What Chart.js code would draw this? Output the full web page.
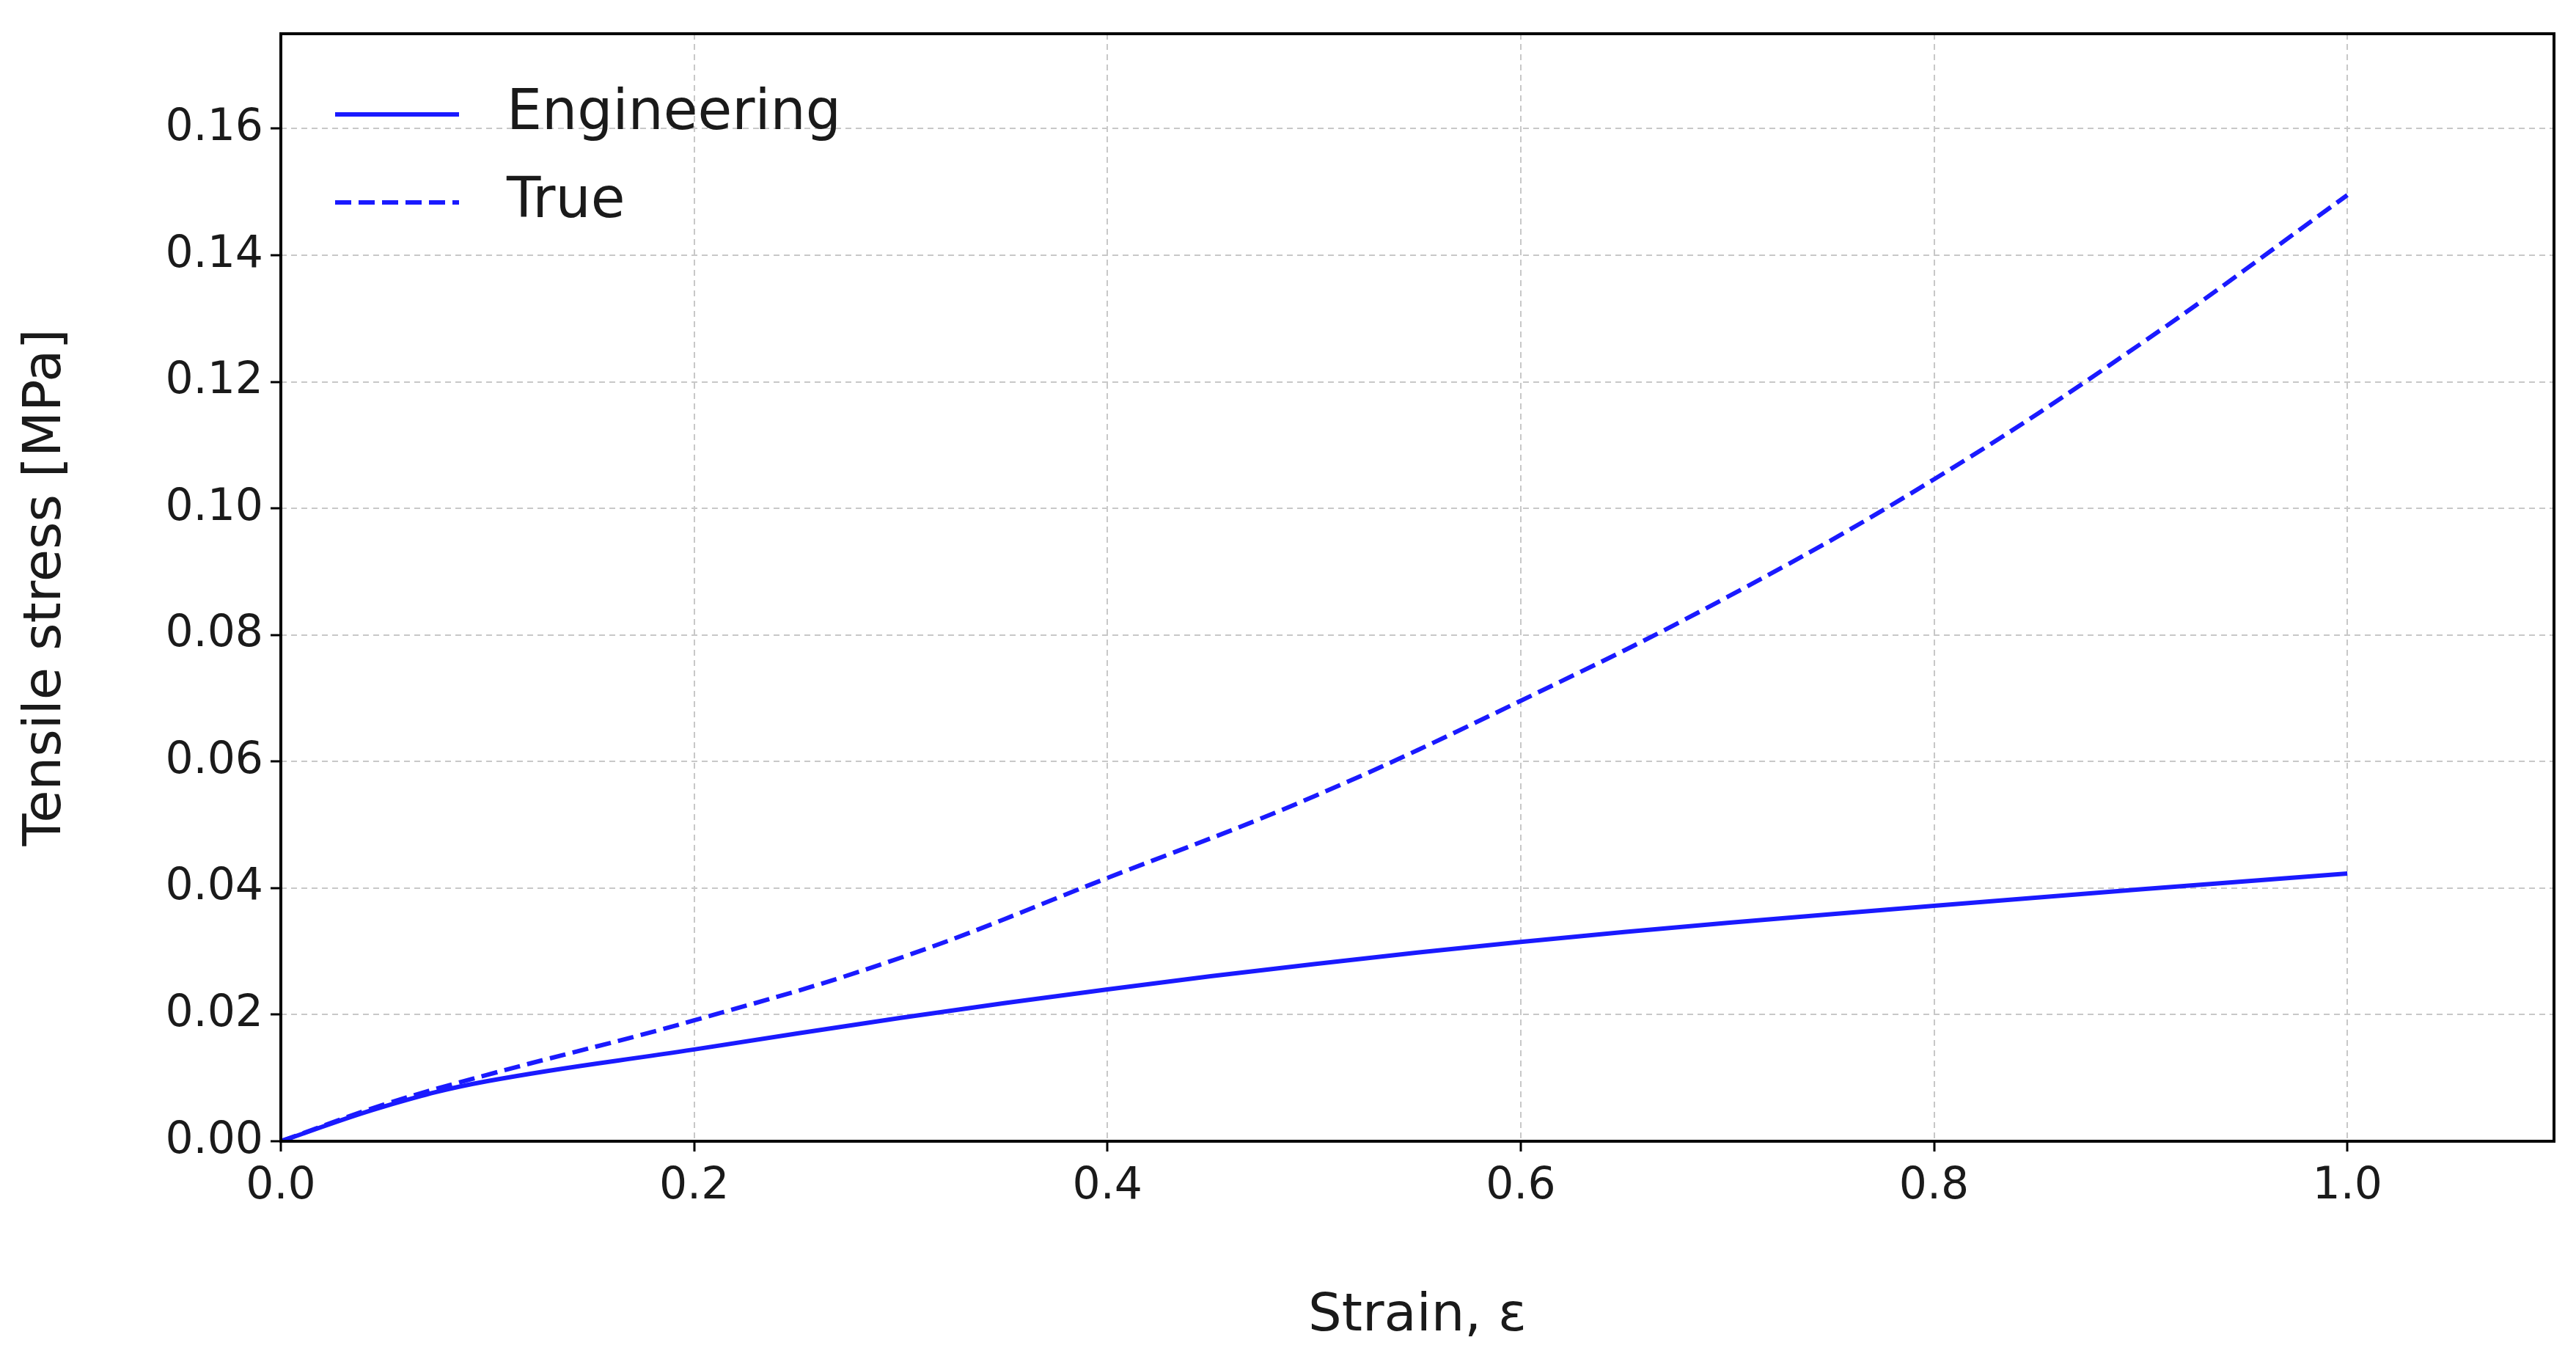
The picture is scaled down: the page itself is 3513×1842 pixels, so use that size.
<!DOCTYPE html>
<html><head><meta charset="utf-8">
<script src="https://cdn.jsdelivr.net/npm/chart.js@4"></script>
<style>html,body{margin:0;padding:0;background:#fff}#w{width:3513px;height:1842px}</style>
</head><body><div id="w"><canvas id="c"></canvas></div>
<script>
const strain = [0,0.05,0.1,0.2,0.3,0.4,0.5,0.6,0.7,0.8,0.9,1.0];
const engineering = [0,0.0055,0.0095,0.0145,0.0195,0.024,0.028,0.0315,0.0345,0.0372,0.0398,0.0423];
const trueStress = [0,0.0058,0.0105,0.0191,0.029,0.0416,0.0545,0.0696,0.086,0.1046,0.126,0.1495];
const xTicks = [0,0.2,0.4,0.6,0.8,1.0];
const yTicks = [0,0.02,0.04,0.06,0.08,0.1,0.12,0.14,0.16];
const seriesNames = ['Engineering','True'];
const F = 'DejaVu Sans';
const legendPlugin = {id:'lg', afterDraw(ch){
  const c=ch.ctx,a=ch.chartArea;
  c.save();c.strokeStyle='#000';c.lineWidth=4;c.strokeRect(a.left,a.top,a.right-a.left,a.bottom-a.top);
  const items=[[seriesNames[0],[]],[seriesNames[1],[22,10]]];
  items.forEach((it,i)=>{const y=a.top+110+i*120;
    c.strokeStyle='#1a1aff';c.lineWidth=6;c.setLineDash(it[1]);
    c.beginPath();c.moveTo(a.left+74,y);c.lineTo(a.left+243,y);c.stroke();
    c.setLineDash([]);c.fillStyle='#1a1a1a';c.font='76px '+F;c.textBaseline='middle';c.fillText(it[0],a.left+308,y);});
  c.restore();}};
const mk=(xs,ys)=>xs.map((x,i)=>({x,y:ys[i]}));
new Chart(document.getElementById('c'),{type:'line',
 data:{datasets:[
  {label:seriesNames[0],data:mk(strain,engineering),borderColor:'#1a1aff',borderWidth:6,pointRadius:0,tension:0.4,fill:false},
  {label:seriesNames[1],data:mk(strain,trueStress),borderColor:'#1a1aff',borderWidth:6,borderDash:[22,10],pointRadius:0,tension:0.4,fill:false}]},
 options:{responsive:true,maintainAspectRatio:false,animation:false,
  layout:{padding:{top:18,right:30,left:0,bottom:0}},
  plugins:{legend:{display:false},tooltip:{enabled:false}},
  scales:{
   x:{type:'linear',min:0,max:1.1,afterBuildTicks:s=>{s.ticks=xTicks.map(v=>({value:v}));},
     afterFit:s=>{s.height=286;},
     grid:{color:'#c8c8c8',lineWidth:2,tickColor:'#000',tickLength:14,tickWidth:3},
     border:{display:false,dash:[8,6]},
     ticks:{font:{family:F,size:60},color:'#1a1a1a',padding:12,maxRotation:0,callback:v=>v.toFixed(1)},
     title:{display:true,text:'Strain, ε',font:{family:F,size:72},color:'#1a1a1a',padding:{top:40}}},
   y:{min:0,max:0.175,afterBuildTicks:s=>{s.ticks=yTicks.map(v=>({value:v}));},
     afterFit:s=>{s.width=383;},
     grid:{color:'#c8c8c8',lineWidth:2,tickColor:'#000',tickLength:14,tickWidth:3},
     border:{display:false,dash:[8,6]},
     ticks:{font:{family:F,size:60},color:'#1a1a1a',padding:10,callback:v=>v.toFixed(2)},
     title:{display:true,text:'Tensile stress [MPa]',font:{family:F,size:72},color:'#1a1a1a',padding:{top:20,bottom:10}}}}},
 plugins:[legendPlugin]});
</script></body></html>
